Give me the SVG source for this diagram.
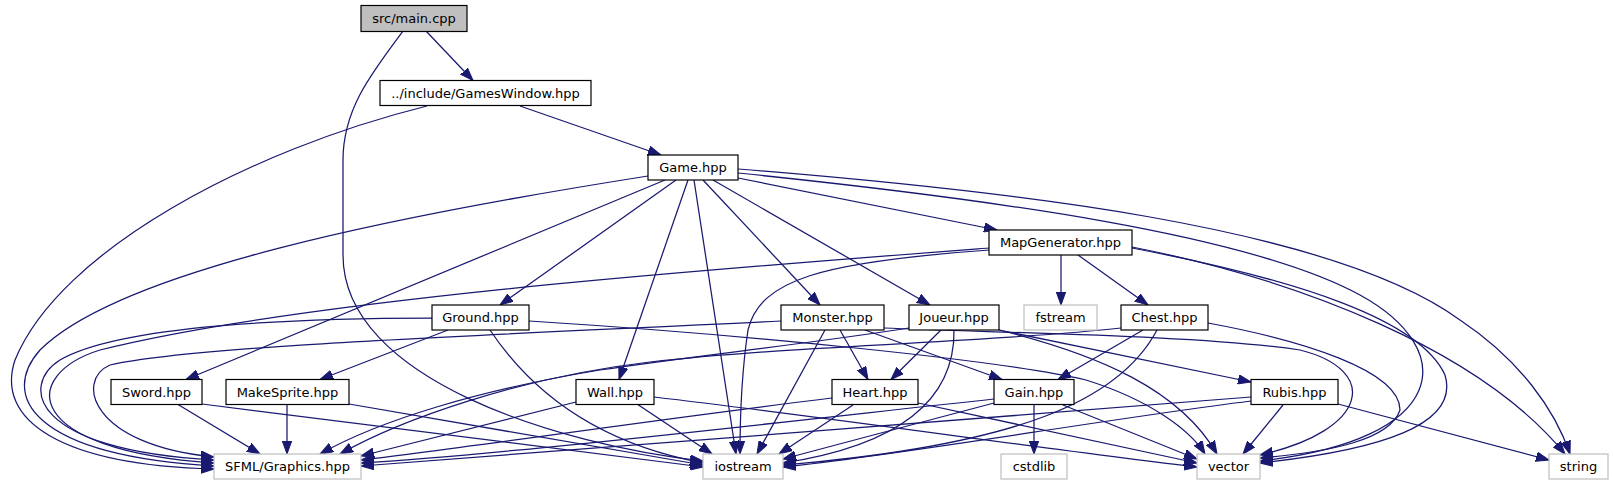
<svg xmlns="http://www.w3.org/2000/svg" width="1613" height="485" viewBox="0 0 1613 485">
<style>
.n rect{fill:#fff;stroke:#000;stroke-width:1.2}
.x rect{fill:#fff;stroke:#bfbfbf;stroke-width:1.2}
.m rect{fill:#bfbfbf;stroke:#000;stroke-width:1.2}
text{font-family:"DejaVu Sans","Liberation Sans",sans-serif;font-size:13px;text-anchor:middle;fill:#000}
#edges path{fill:none;stroke:#191970;stroke-width:1.25;marker-end:url(#a)}
</style>
<defs>
<marker id="a" markerWidth="14" markerHeight="10" refX="13" refY="5" orient="auto" markerUnits="userSpaceOnUse">
<path d="M0,0.3 L13,5 L0,9.7 z" fill="#191970" stroke="#191970" stroke-width="1"/>
</marker>
</defs>
<rect width="1613" height="485" fill="#fff"/>
<g id="edges">
<path d="M426,31 L473,80.5"/>
<path d="M403,31 C370,75 343,110 343,160 L343,255 C343,380 560,445 703,461"/>
<path d="M427,106 C250,150 60,250 15,360 C-5,420 60,465 214,469"/>
<path d="M520,106 L661,155"/>
<path d="M648,176 C400,215 120,270 40,350 C0,395 30,455 214,466"/>
<path d="M989,248 C700,270 300,300 100,350 C20,375 20,450 214,463"/>
<path d="M432,318 C300,318 120,325 60,360 C20,385 30,450 214,460"/>
<path d="M781,321 C500,335 200,345 110,365 C75,380 90,445 214,457"/>
<path d="M665,180 L186,379.5"/>
<path d="M676,180 L500,305"/>
<path d="M688,180 L619,379.5"/>
<path d="M694,180 L736,454"/>
<path d="M703,180 L820,305"/>
<path d="M713,180 L930,305"/>
<path d="M738,178 L997,230"/>
<path d="M738,173 C1000,200 1250,235 1360,295 C1460,350 1450,440 1260,461"/>
<path d="M738,169 C1000,190 1330,225 1460,320 C1520,360 1555,410 1570,454"/>
<path d="M990,250 C820,262 760,280 748,330 C742,370 740,420 740,454"/>
<path d="M1061,255 L1061,305"/>
<path d="M1078,255 L1148,305"/>
<path d="M1132,248 C1300,280 1420,320 1445,375 C1460,425 1380,450 1260,463"/>
<path d="M1132,247 C1300,280 1480,350 1565,454"/>
<path d="M448,330 L320,379.5"/>
<path d="M490,330 C520,375 580,440 703,463"/>
<path d="M529,321 C750,335 1000,360 1086,380 C1150,400 1190,430 1205,454"/>
<path d="M178,404.5 L260,454"/>
<path d="M202,404 L703,467"/>
<path d="M287,404.5 L287,454"/>
<path d="M349,404 L703,465"/>
<path d="M825,330 L757,454"/>
<path d="M840,330 L868,379.5"/>
<path d="M865,330 L1002,379.5"/>
<path d="M884,328 C1000,333 1200,335 1300,350 C1380,370 1370,430 1260,455"/>
<path d="M909,328 C800,345 700,355 600,370 C480,390 380,420 320,454"/>
<path d="M941,330 L891,379.5"/>
<path d="M954,330 C955,400 900,445 783,463"/>
<path d="M999,330 L1251,382"/>
<path d="M999,330 C1100,355 1180,390 1217,454"/>
<path d="M1121,328 C1000,342 800,345 650,362 C520,377 400,420 340,454"/>
<path d="M1143,330 L1058,379.5"/>
<path d="M1157,330 C1120,400 1020,445 783,465"/>
<path d="M1208,323 C1300,340 1400,370 1400,410 C1390,440 1330,452 1260,458"/>
<path d="M576,402 L361,456"/>
<path d="M637,404 L712,454"/>
<path d="M654,397 C850,420 1050,450 1197,467"/>
<path d="M832,398 C650,420 450,450 361,460"/>
<path d="M853,405 L779,454"/>
<path d="M918,403 L1197,463"/>
<path d="M994,399 C800,420 500,455 361,463"/>
<path d="M994,403 L783,459"/>
<path d="M1034,405 L1034,454"/>
<path d="M1063,405 L1197,459"/>
<path d="M1251,397 C1000,415 600,450 361,466"/>
<path d="M1251,401 C1100,420 900,455 783,467"/>
<path d="M1283,405 L1243,454"/>
<path d="M1338,404 L1549,460"/>
</g>
<g id="n-main" class="m"><rect x="361" y="5.5" width="106" height="26"/><text x="414" y="23">src/main.cpp</text></g>
<g id="n-gameswindow" class="n"><rect x="380" y="80.5" width="211" height="25"/><text x="485.5" y="97.5">../include/GamesWindow.hpp</text></g>
<g id="n-game" class="n"><rect x="648" y="155" width="90" height="25"/><text x="693" y="172">Game.hpp</text></g>
<g id="n-mapgenerator" class="n"><rect x="989" y="230" width="143" height="25"/><text x="1060.5" y="247">MapGenerator.hpp</text></g>
<g id="n-ground" class="n"><rect x="432" y="305" width="97" height="25"/><text x="480.5" y="322">Ground.hpp</text></g>
<g id="n-monster" class="n"><rect x="781" y="305" width="103" height="25"/><text x="832.5" y="322">Monster.hpp</text></g>
<g id="n-joueur" class="n"><rect x="909" y="305" width="90" height="25"/><text x="954" y="322">Joueur.hpp</text></g>
<g id="n-fstream" class="x"><rect x="1024" y="305" width="73" height="25"/><text x="1060.5" y="322">fstream</text></g>
<g id="n-chest" class="n"><rect x="1121" y="305" width="87" height="25"/><text x="1164.5" y="322">Chest.hpp</text></g>
<g id="n-sword" class="n"><rect x="111" y="379.5" width="91" height="25"/><text x="156.5" y="396.5">Sword.hpp</text></g>
<g id="n-makesprite" class="n"><rect x="226" y="379.5" width="123" height="25"/><text x="287.5" y="396.5">MakeSprite.hpp</text></g>
<g id="n-wall" class="n"><rect x="576" y="379.5" width="78" height="25"/><text x="615" y="396.5">Wall.hpp</text></g>
<g id="n-heart" class="n"><rect x="832" y="379.5" width="86" height="25"/><text x="875" y="396.5">Heart.hpp</text></g>
<g id="n-gain" class="n"><rect x="994" y="379.5" width="80" height="25"/><text x="1034" y="396.5">Gain.hpp</text></g>
<g id="n-rubis" class="n"><rect x="1251" y="379.5" width="87" height="25"/><text x="1294.5" y="396.5">Rubis.hpp</text></g>
<g id="n-sfml" class="x"><rect x="214" y="454" width="147" height="25"/><text x="287.5" y="471">SFML/Graphics.hpp</text></g>
<g id="n-iostream" class="x"><rect x="703" y="454" width="80" height="25"/><text x="743" y="471">iostream</text></g>
<g id="n-cstdlib" class="x"><rect x="1001" y="454" width="66" height="25"/><text x="1034" y="471">cstdlib</text></g>
<g id="n-vector" class="x"><rect x="1197" y="454" width="63" height="25"/><text x="1228.5" y="471">vector</text></g>
<g id="n-string" class="x"><rect x="1549" y="454" width="59" height="25"/><text x="1578.5" y="471">string</text></g>
</svg>
